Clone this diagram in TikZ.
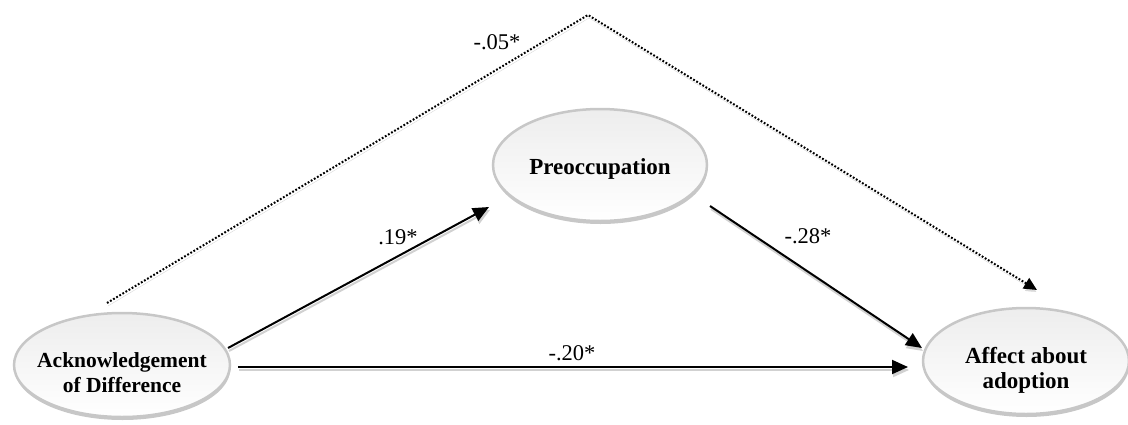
\documentclass[tikz,border=0pt]{standalone}
\usepackage{fontspec}
\setmainfont{Liberation Serif}
\usetikzlibrary{arrows.meta,shapes.geometric,shadows}
\begin{document}
\begin{tikzpicture}[x=1pt,y=1pt,
  var/.style={ellipse, draw=black!22, line width=2.5pt, top color=black!7, bottom color=white,
    inner sep=0pt,
    drop shadow={shadow xshift=0.5pt, shadow yshift=-3pt, fill=black!22, opacity=1}},
  vtext/.style={align=center, inner sep=0pt, font=\fontsize{23}{25}\selectfont\bfseries},
  conn/.style={line width=2pt, -{Triangle[length=16pt,width=14pt]},
    preaction={draw=black!18, line width=2pt, transform canvas={shift={(1pt,-3pt)}}}},
  dotconn/.style={line width=2pt, dash pattern=on 1.8pt off 1.8pt,
    -{Triangle[length=13pt,width=12pt]},
    preaction={draw=black!15, transform canvas={shift={(1pt,-3pt)}}}},
  coef/.style={font=\fontsize{22.5}{24}\selectfont, inner sep=0pt}
]
\useasboundingbox (0,0) rectangle (1128,-424);

\node[var, minimum width=216pt, minimum height=104pt,
  label={[vtext, font=\fontsize{21.5}{25}\selectfont\bfseries, yshift=-8pt]center:Acknowledgement\\of Difference}] (ack) at (122,-365) {};
\node[var, minimum width=214pt, minimum height=112pt,
  label={[vtext, yshift=-4pt]center:Preoccupation}] (pre) at (600,-165) {};
\node[var, minimum width=206pt, minimum height=106pt,
  label={[vtext, yshift=-9pt]center:Affect about\\adoption}] (aff) at (1026,-361) {};

\coordinate (a1) at (228,-348);
\coordinate (p1) at (489,-207);
\coordinate (p2) at (710,-206);
\coordinate (f1) at (922,-348);
\coordinate (a2) at (238,-367);
\coordinate (f2) at (908,-367);
\coordinate (a3) at (107,-303);
\coordinate (apex) at (588,-15);
\coordinate (f3) at (1037,-290);

\draw[conn] (a1) -- (p1);
\draw[conn] (p2) -- (f1);
\draw[conn] (a2) -- (f2);
\draw[dotconn] (a3) -- (apex) -- (f3);

\node[coef] (c1) at (398,-237) {.19*};
\node[coef] (c2) at (808,-236) {-.28*};
\node[coef] (c3) at (572,-353) {-.20*};
\node[coef] (c4) at (497,-42) {-.05*};
\end{tikzpicture}
\end{document}
